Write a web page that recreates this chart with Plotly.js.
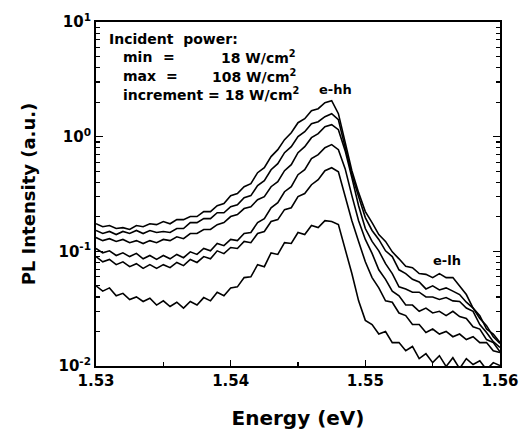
<!DOCTYPE html>
<html>
<head>
<meta charset="utf-8">
<script src="https://cdn.plot.ly/plotly-3.0.1.min.js"></script>
<style>html,body{margin:0;padding:0;background:#fff;}#chart{width:521px;height:440px;}</style>
</head>
<body>
<div id="chart"></div>
<script>
const energy = [1.5300,1.5305,1.5310,1.5315,1.5320,1.5325,1.5330,1.5335,1.5340,1.5345,1.5350,1.5355,1.5360,1.5365,1.5370,1.5375,1.5380,1.5385,1.5390,1.5395,1.5400,1.5405,1.5410,1.5415,1.5420,1.5425,1.5430,1.5435,1.5440,1.5445,1.5450,1.5455,1.5460,1.5465,1.5470,1.5475,1.5480,1.5485,1.5490,1.5495,1.5500,1.5505,1.5510,1.5515,1.5520,1.5525,1.5530,1.5535,1.5540,1.5545,1.5550,1.5555,1.5560,1.5565,1.5570,1.5575,1.5580,1.5585,1.5590,1.5595,1.5600];

const pl108 = [0.174,0.164,0.168,0.158,0.161,0.155,0.168,0.164,0.174,0.171,
0.182,0.174,0.189,0.189,0.201,0.201,0.222,0.222,0.250,0.261,
0.306,0.319,0.366,0.389,0.485,0.536,0.670,0.770,0.942,1.083,
1.324,1.435,1.686,1.755,1.979,2.06,1.587,0.887,0.505,0.325,
0.222,0.178,0.140,0.122,0.099,0.086,0.074,0.072,0.064,0.063,
0.059,0.064,0.059,0.059,0.050,0.042,0.032,0.0275,0.021,0.019,
0.016];

const pl90 = [0.152,0.143,0.149,0.140,0.149,0.143,0.152,0.143,0.152,0.146,
0.149,0.146,0.158,0.158,0.178,0.178,0.193,0.193,0.217,0.217,
0.245,0.255,0.294,0.306,0.374,0.413,0.515,0.582,0.725,0.818,
1.0,1.106,1.298,1.351,1.494,1.587,1.406,0.802,0.466,0.300,
0.197,0.152,0.127,0.101,0.090,0.069,0.064,0.057,0.054,0.047,
0.050,0.046,0.048,0.045,0.042,0.036,0.032,0.026,0.0225,0.018,
0.0157];

const pl72 = [0.132,0.124,0.129,0.122,0.127,0.119,0.124,0.117,0.124,0.119,
0.127,0.124,0.134,0.129,0.143,0.143,0.155,0.155,0.171,0.178,
0.201,0.209,0.236,0.245,0.282,0.300,0.366,0.405,0.505,0.570,
0.725,0.818,0.980,1.062,1.222,1.272,1.151,0.755,0.439,0.250,
0.158,0.122,0.101,0.078,0.064,0.049,0.047,0.044,0.044,0.040,
0.040,0.038,0.0395,0.037,0.0365,0.032,0.030,0.023,0.0196,0.0163,
0.0145];

const pl54 = [0.106,0.097,0.101,0.092,0.097,0.090,0.096,0.086,0.092,0.085,
0.092,0.086,0.094,0.088,0.099,0.094,0.106,0.101,0.117,0.112,
0.127,0.124,0.143,0.146,0.178,0.193,0.240,0.266,0.331,0.366,
0.466,0.515,0.643,0.697,0.802,0.852,0.770,0.526,0.306,0.185,
0.127,0.096,0.069,0.057,0.045,0.041,0.034,0.034,0.030,0.032,
0.029,0.030,0.0275,0.030,0.027,0.026,0.022,0.021,0.017,0.016,
0.0133];

const pl36 = [0.090,0.081,0.085,0.0765,0.081,0.0735,0.078,0.071,0.0765,0.071,
0.0765,0.072,0.080,0.075,0.085,0.080,0.090,0.086,0.101,0.0955,
0.108,0.106,0.122,0.119,0.143,0.149,0.182,0.189,0.231,0.240,
0.300,0.319,0.381,0.421,0.505,0.536,0.495,0.306,0.185,0.122,
0.081,0.059,0.048,0.037,0.036,0.029,0.0275,0.023,0.023,0.0196,
0.021,0.019,0.020,0.018,0.019,0.017,0.018,0.016,0.016,0.0136,
0.0131];

const pl18 = [0.050,0.045,0.048,0.041,0.043,0.038,0.040,0.0365,0.039,0.034,
0.037,0.033,0.036,0.032,0.0365,0.034,0.0395,0.037,0.044,0.041,
0.048,0.049,0.059,0.060,0.0765,0.0735,0.097,0.094,0.119,0.117,
0.146,0.140,0.168,0.161,0.185,0.182,0.171,0.106,0.064,0.037,
0.025,0.023,0.019,0.020,0.016,0.016,0.0136,0.0148,0.0116,0.0128,
0.0107,0.0123,0.0099,0.0118,0.0095,0.0116,0.0103,0.0111,0.0093,0.0107,
0.0101];

const seriesNames = ['108 W/cm2','90 W/cm2','72 W/cm2','54 W/cm2','36 W/cm2','18 W/cm2'];
const seriesData = [pl108, pl90, pl72, pl54, pl36, pl18];

const xTickVals = [1.53, 1.54, 1.55, 1.56];
const xTickText = ['1.53', '1.54', '1.55', '1.56'];
const yTickVals = [0.01, 0.1, 1, 10];
const yTickText = ['10<sup>-2</sup>', '10<sup>-1</sup>', '10<sup>0</sup>', '10<sup>1</sup>'];

const FONT = 'DejaVu Sans, Liberation Sans, Arial, sans-serif';

const traces = seriesData.map((ys, k) => ({
  x: energy, y: ys, type: 'scatter', mode: 'lines', name: seriesNames[k],
  line: {color: '#000', width: 1.6, shape: 'linear'}, showlegend: false
}));

const yMinor = [];
[0.01, 0.1, 1].forEach(d => { for (let m = 2; m <= 9; m++) yMinor.push(+(d * m).toPrecision(3)); });

const annFont = {family: FONT, size: 14, color: '#000', weight: 'bold'};
const labFont = {family: FONT, size: 13, color: '#000', weight: 'bold'};

function ann(text, x, y, xanchor, font) {
  return {xref: 'paper', yref: 'paper', x: x, y: y, xanchor: xanchor, yanchor: 'middle',
          showarrow: false, text: text, font: font};
}

const layout = {
  width: 521, height: 440,
  margin: {l: 96, r: 21, t: 22, b: 74, pad: 0},
  paper_bgcolor: '#fff', plot_bgcolor: '#fff',
  font: {family: FONT, size: 14, color: '#000', weight: 'bold'},
  xaxis: {
    range: [1.53, 1.56], tickvals: xTickVals, ticktext: xTickText,
    ticks: 'inside', ticklen: 6, tickwidth: 1.5, tickcolor: '#000',
    minor: {tickvals: [1.535, 1.545, 1.555], ticks: 'inside', ticklen: 4, tickwidth: 1.2, tickcolor: '#000'},
    showline: true, linecolor: '#000', linewidth: 2, mirror: true,
    showgrid: false, zeroline: false, automargin: false,
    tickfont: {family: FONT, size: 15, color: '#000', weight: 'bold'},
    title: {text: 'Energy (eV)', font: {family: FONT, size: 20, color: '#000', weight: 'bold'}, standoff: 22}
  },
  yaxis: {
    type: 'log', range: [-2, 1], tickvals: yTickVals, ticktext: yTickText,
    ticks: 'inside', ticklen: 7, tickwidth: 1.5, tickcolor: '#000',
    minor: {tickvals: yMinor, ticks: 'inside', ticklen: 4, tickwidth: 1.2, tickcolor: '#000'},
    showline: true, linecolor: '#000', linewidth: 2, mirror: 'allticks',
    showgrid: false, zeroline: false, automargin: false,
    tickfont: {family: FONT, size: 15, color: '#000', weight: 'bold'},
    title: {text: 'PL Intensity (a.u.)', font: {family: FONT, size: 18, color: '#000', weight: 'bold'}, standoff: 18}
  },
  annotations: [
    ann('Incident&nbsp;&nbsp;power:', 0.027, 0.951, 'left', annFont),
    ann('min', 0.062, 0.898, 'left', annFont),
    ann('=', 0.181, 0.898, 'center', annFont),
    ann('18 W/cm<sup>2</sup>', 0.50, 0.898, 'right', annFont),
    ann('max', 0.062, 0.843, 'left', annFont),
    ann('=', 0.188, 0.843, 'center', annFont),
    ann('108 W/cm<sup>2</sup>', 0.50, 0.843, 'right', annFont),
    ann('increment = 18 W/cm<sup>2</sup>', 0.062, 0.791, 'left', annFont),
    ann('e-hh', 0.592, 0.805, 'center', labFont),
    ann('e-lh', 0.87, 0.308, 'center', labFont)
  ]
};

Plotly.newPlot('chart', traces, layout, {staticPlot: true, displayModeBar: false});
</script>
</body>
</html>
